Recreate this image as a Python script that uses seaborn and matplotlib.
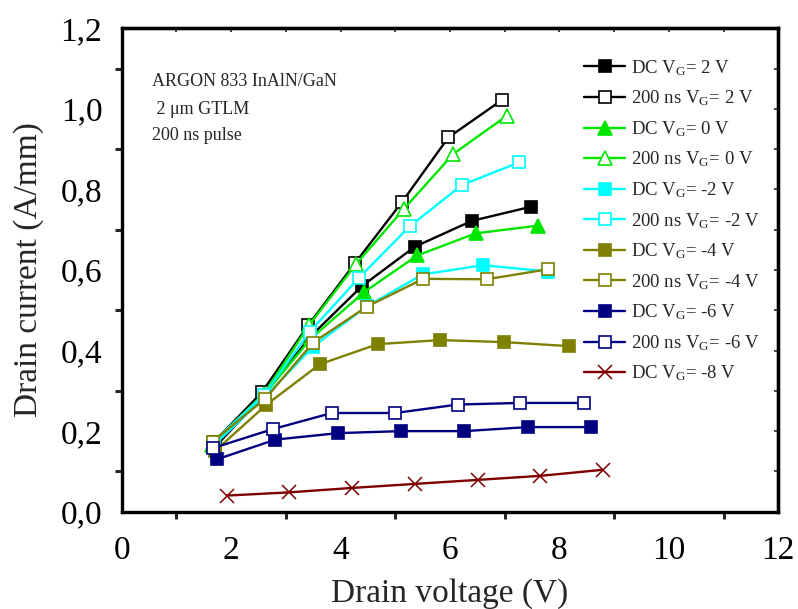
import numpy as np
import pandas as pd
import matplotlib
matplotlib.use("Agg")
import matplotlib.pyplot as plt
import seaborn as sns
from matplotlib.ticker import MultipleLocator, FixedLocator

# ---------------- data ----------------
dc_p2_x = [1.70, 2.60, 3.45, 4.39, 5.36, 6.40, 7.48]
dc_p2_y = [0.160, 0.290, 0.435, 0.560, 0.658, 0.722, 0.757]
p_p2_x = [1.68, 2.56, 3.41, 4.27, 5.13, 5.97, 6.95]
p_p2_y = [0.172, 0.296, 0.463, 0.618, 0.770, 0.929, 1.022]
dc_0_x = [1.65, 2.60, 3.46, 4.43, 5.40, 6.47, 7.60]
dc_0_y = [0.165, 0.290, 0.430, 0.545, 0.636, 0.691, 0.710]
p_0_x = [1.66, 2.60, 3.43, 4.28, 5.16, 6.06, 7.04]
p_0_y = [0.170, 0.293, 0.464, 0.614, 0.752, 0.888, 0.983]
dc_m2_x = [1.68, 2.62, 3.50, 4.48, 5.50, 6.61, 7.80]
dc_m2_y = [0.165, 0.285, 0.410, 0.510, 0.589, 0.612, 0.596]
p_m2_x = [1.66, 2.60, 3.44, 4.34, 5.26, 6.22, 7.26]
p_m2_y = [0.171, 0.290, 0.447, 0.581, 0.708, 0.811, 0.867]
dc_m4_x = [1.70, 2.64, 3.62, 4.68, 5.82, 6.99, 8.18]
dc_m4_y = [0.150, 0.265, 0.366, 0.416, 0.426, 0.421, 0.411]
p_m4_x = [1.66, 2.62, 3.50, 4.48, 5.51, 6.67, 7.80]
p_m4_y = [0.174, 0.280, 0.420, 0.509, 0.578, 0.577, 0.602]
dc_m6_x = [1.74, 2.81, 3.95, 5.10, 6.26, 7.42, 8.57]
dc_m6_y = [0.130, 0.179, 0.195, 0.200, 0.200, 0.210, 0.210]
p_m6_x = [1.67, 2.76, 3.84, 5.00, 6.14, 7.28, 8.45]
p_m6_y = [0.158, 0.205, 0.245, 0.245, 0.266, 0.270, 0.270]
dc_m8_x = [1.92, 3.06, 4.21, 5.36, 6.51, 7.65, 8.79]
dc_m8_y = [0.040, 0.048, 0.059, 0.069, 0.079, 0.089, 0.104]

series_labels = [
    r"DC V$_\mathrm{G}$= 2 V", r"200 ns V$_\mathrm{G}$= 2 V",
    r"DC V$_\mathrm{G}$= 0 V", r"200 ns V$_\mathrm{G}$= 0 V",
    r"DC V$_\mathrm{G}$= -2 V", r"200 ns V$_\mathrm{G}$= -2 V",
    r"DC V$_\mathrm{G}$= -4 V", r"200 ns V$_\mathrm{G}$= -4 V",
    r"DC V$_\mathrm{G}$= -6 V", r"200 ns V$_\mathrm{G}$= -6 V",
    r"DC V$_\mathrm{G}$= -8 V",
]
series_xy = [
    (dc_p2_x, dc_p2_y), (p_p2_x, p_p2_y),
    (dc_0_x, dc_0_y), (p_0_x, p_0_y),
    (dc_m2_x, dc_m2_y), (p_m2_x, p_m2_y),
    (dc_m4_x, dc_m4_y), (p_m4_x, p_m4_y),
    (dc_m6_x, dc_m6_y), (p_m6_x, p_m6_y),
    (dc_m8_x, dc_m8_y),
]
x_ticks = [0, 2, 4, 6, 8, 10, 12]
y_ticks = [0.0, 0.2, 0.4, 0.6, 0.8, 1.0, 1.2]
y_tick_labels = ["0,0", "0,2", "0,4", "0,6", "0,8", "1,0", "1,2"]
annotation_lines = ["ARGON 833 InAlN/GaN", " 2 \u03bcm GTLM", "200 ns pulse"]

# ---------------- styles ----------------
colors = ["#000000", "#000000", "#00e600", "#00e600", "#00ffff", "#00ffff",
          "#808000", "#808000", "#000080", "#000080", "#800000"]
markers = ["s", "s", "^", "^", "s", "s", "s", "s", "s", "s", "x"]
filled = [True, False, True, False, True, False, True, False, True, False, True]

sns.set_theme(style="white")
plt.rcParams["font.family"] = ["Liberation Serif", "DejaVu Serif"]
plt.rcParams["mathtext.fontset"] = "custom"
plt.rcParams["mathtext.rm"] = "Liberation Serif"
plt.rcParams["mathtext.it"] = "Liberation Serif:italic"

fig = plt.figure(figsize=(7.98, 6.09), dpi=100)
ax = fig.add_axes([121.7 / 798, 1 - 511.7 / 609, (778.3 - 121.7) / 798, (511.7 - 28.3) / 609])

frames = []
for lab, (xs, ys) in zip(series_labels, series_xy):
    frames.append(pd.DataFrame({"V": xs, "I": ys, "series": lab}))
df = pd.concat(frames, ignore_index=True)

for i, lab in enumerate(series_labels):
    sub = df[df["series"] == lab]
    c = colors[i]
    kw = dict(marker=markers[i], markeredgecolor=c, linewidth=1.7)
    if markers[i] == "x":
        kw.update(markersize=10, markeredgewidth=1.1)
    elif markers[i] == "^":
        kw.update(markersize=10, markerfacecolor=c if filled[i] else "white", markeredgewidth=1.2)
    else:
        kw.update(markersize=9, markerfacecolor=c if filled[i] else "white", markeredgewidth=1.2)
    sns.lineplot(data=sub, x="V", y="I", ax=ax, color=c, label=lab,
                 estimator=None, sort=False, **kw)

ax.set_xlim(0, 12)
ax.set_ylim(0, 1.2)
ax.xaxis.set_major_locator(FixedLocator(x_ticks))
ax.xaxis.set_minor_locator(MultipleLocator(1))
ax.yaxis.set_major_locator(FixedLocator(y_ticks))
ax.set_yticklabels(y_tick_labels)
ax.yaxis.set_minor_locator(MultipleLocator(0.1))
ax.tick_params(which="major", direction="out", length=9, width=2.2, labelsize=24,
               colors="black", pad=5)
ax.tick_params(axis="x", which="major", pad=8)
ax.tick_params(which="minor", direction="out", length=5, width=2.2, bottom=True, left=True)
for s in ax.spines.values():
    s.set_linewidth(2.4)
    s.set_color("black")

# mirrored inward ticks on top / right
secx = ax.secondary_xaxis("top")
secx.xaxis.set_major_locator(MultipleLocator(1))
secx.tick_params(direction="in", length=3, width=1.2, labeltop=False)
secx.spines["top"].set_linewidth(2.4)
secy = ax.secondary_yaxis("right")
secy.yaxis.set_major_locator(MultipleLocator(0.1))
secy.tick_params(direction="in", length=3, width=1.2, labelright=False)
secy.spines["right"].set_linewidth(2.4)

ax.set_xlabel("Drain voltage (V)", fontsize=24, labelpad=9)
ax.set_ylabel("Drain current (A/mm)", fontsize=24, labelpad=12)

for k, t in enumerate(annotation_lines):
    fig.text(151.7 / 798, 1 - (82 + 27 * k) / 609, t, fontsize=13, va="center", ha="left")

leg = ax.legend(loc="upper left", bbox_to_anchor=(584 / 798, 1 - 58 / 609),
                bbox_transform=fig.transFigure, frameon=False, fontsize=13.5,
                handlelength=2.2, handletextpad=0.3, labelspacing=0.58, borderpad=0,
                borderaxespad=0)

fig.savefig("out.png", dpi=100)
